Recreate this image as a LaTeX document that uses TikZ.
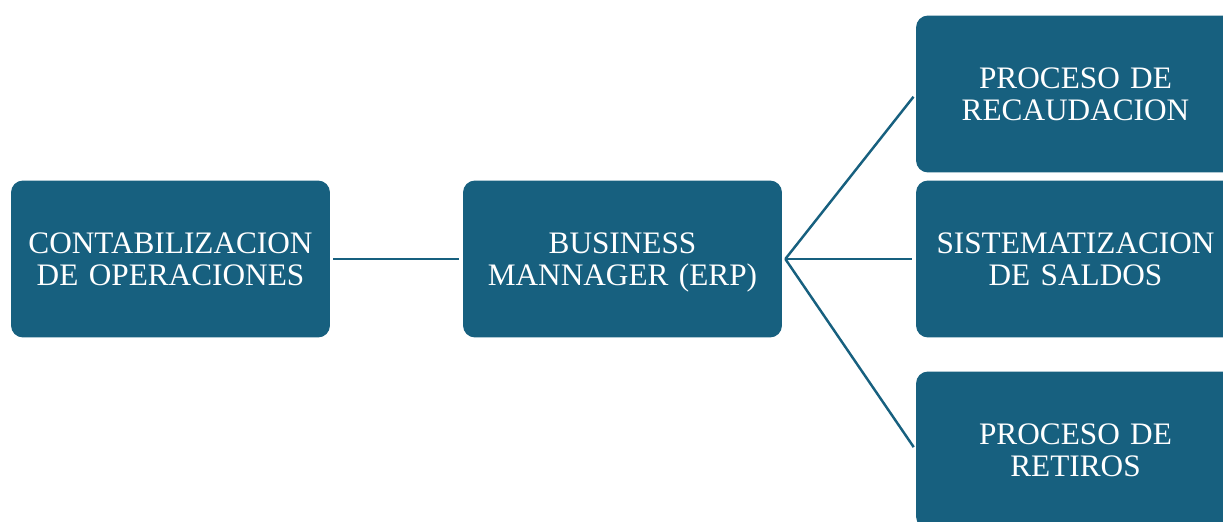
\documentclass[tikz,border=0pt]{standalone}
\usepackage{fontspec}
\setmainfont{Liberation Serif}
\usepackage{xcolor}
\usetikzlibrary{shapes,positioning}
\definecolor{cajaazul}{HTML}{17607F}

\tikzset{
    caja/.style={rectangle, rounded corners=0.24cm, fill=cajaazul, draw=none,
        minimum width=6.38cm, minimum height=3.14cm, inner sep=0pt,
        text=white, text width=6.2cm, align=center,
        font=\fontsize{17.8}{18.4}\selectfont},
    enlace/.style={draw=cajaazul, line width=1.4pt, shorten >=0.07cm}
}

\begin{document}
\begin{tikzpicture}[x=0.02cm, y=-0.02cm]
    % Marco del dibujo
    \useasboundingbox (0,0) rectangle (1223,521);

    % Caja izquierda y caja central
    \node[caja] (conta) at (170.5,259) {CONTABILIZACION\\DE OPERACIONES};
    \node[caja] (erp) at (622.5,259) {BUSINESS\\MANNAGER \smash{(ERP)}};

    % Cajas de la derecha
    \node[caja] (recauda) at (1075.5,94) {PROCESO DE\\RECAUDACION};
    \node[caja] (saldos) at (1075.5,259) {SISTEMATIZACION\\DE SALDOS};
    \node[caja] (retiros) at (1075.5,450) {PROCESO DE\\RETIROS};

    % Puntos de salida de los enlaces
    \coordinate (salconta) at ([xshift=0.06cm]conta.east);
    \coordinate (salerp) at ([xshift=0.06cm]erp.east);

    % Enlaces
    \draw[enlace] (salconta) -- (erp.west);
    \draw[enlace] (salerp) -- (recauda.west);
    \draw[enlace] (salerp) -- (saldos.west);
    \draw[enlace] (salerp) -- (retiros.west);
\end{tikzpicture}
\end{document}
